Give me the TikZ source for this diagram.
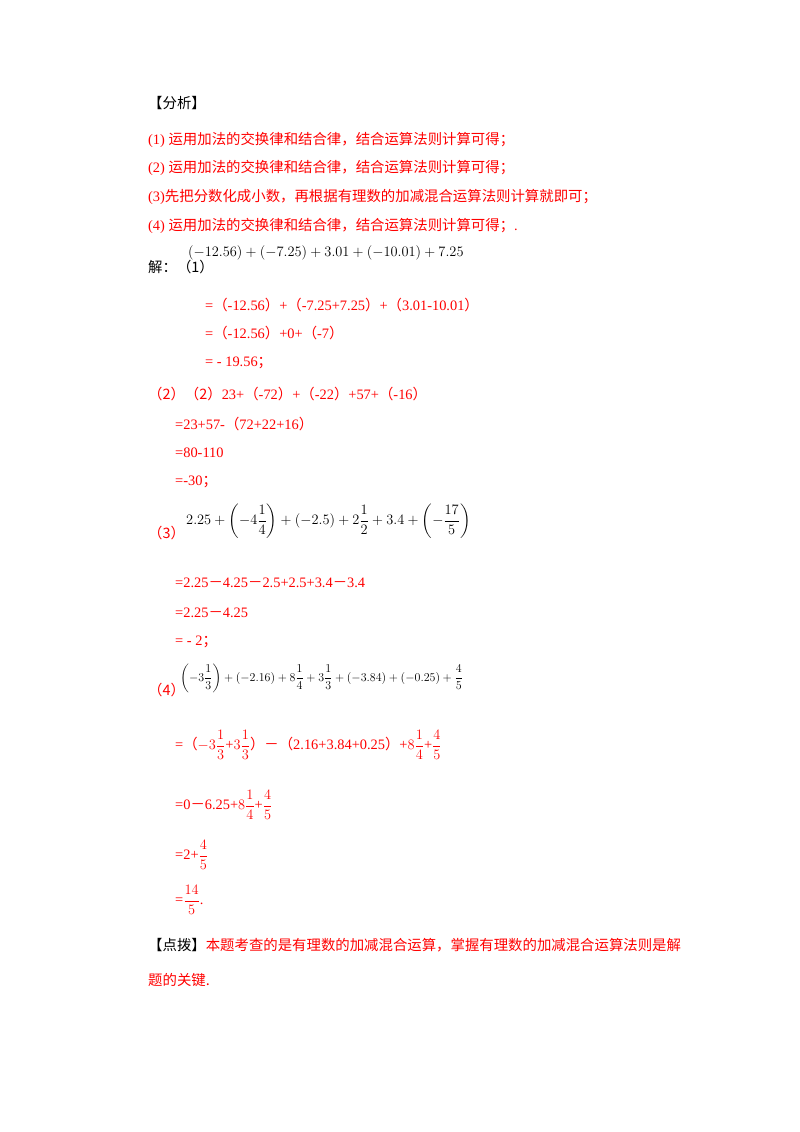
\documentclass[tikz,border=0pt]{standalone}
\usepackage{amsmath}
\usepackage{fontspec}
\setmainfont{Liberation Serif}
\newfontfamily\cjk{Noto Sans CJK SC}
\definecolor{rd}{RGB}{255,0,0}
\begin{document}
\begin{tikzpicture}[x=1pt,y=-1pt,
  t/.style={anchor=west,inner sep=0pt,font=\fontsize{14.4}{16}\selectfont,text=rd},
  k/.style={t,text=black},
  m/.style={k,font=\fontsize{#1}{16}\selectfont}]
\useasboundingbox[fill=white] (0,0) rectangle (800,1132);
\node[k] (a0) at (148,103) {\cjk 【分析】};
\node[t] (a1) at (148,140) {(1) {\cjk 运用加法的交换律和结合律，结合运算法则计算可得；}};
\node[t] (a2) at (148,168) {(2) {\cjk 运用加法的交换律和结合律，结合运算法则计算可得；}};
\node[t] (a3) at (148,197) {(3){\cjk 先把分数化成小数，再根据有理数的加减混合运算法则计算就即可；}};
\node[t] (a4) at (148,226) {(4) {\cjk 运用加法的交换律和结合律，结合运算法则计算可得；}.};
\node[k] (b0) at (148,267) {\cjk 解：（1）};
\node[m=15] (b1) at (188,253) {$(-12.56)+(-7.25)+3.01+(-10.01)+7.25$};
\node[t] (b2) at (205,305) {={\cjk （}-12.56{\cjk ）}+{\cjk （}-7.25+7.25{\cjk ）}+{\cjk （}3.01-10.01{\cjk ）}};
\node[t] (b3) at (205,333) {={\cjk （}-12.56{\cjk ）}+0+{\cjk （}-7{\cjk ）}};
\node[t] (b4) at (205,363) {= - 19.56{\cjk ；}};
\node[t] (c0) at (148,394) {{\cjk （2）（2）}23+{\cjk （}-72{\cjk ）}+{\cjk （}-22{\cjk ）}+57+{\cjk （}-16{\cjk ）}};
\node[t] (c1) at (175,424) {=23+57-{\cjk （}72+22+16{\cjk ）}};
\node[t] (c2) at (175,453) {=80-110};
\node[t] (c3) at (175,482) {=-30{\cjk ；}};
\node[t] (d0) at (148,533) {\cjk （3）};
\node[m=13.5] (d1) at (186,521) {$2.25+\left(-4\dfrac{1}{4}\right)+(-2.5)+2\dfrac{1}{2}+3.4+\left(-\dfrac{17}{5}\right)$};
\node[t] (d2) at (175,583) {=2.25{\cjk －}4.25{\cjk －}2.5+2.5+3.4{\cjk －}3.4};
\node[t] (d3) at (175,613) {=2.25{\cjk －}4.25};
\node[t] (d4) at (175,642) {= - 2{\cjk ；}};
\node[t] (e0) at (148,690) {\cjk （4）};
\node[m=12.8] (e1) at (180,678) {$\left(-3\dfrac{1}{3}\right)+(-2.16)+8\dfrac{1}{4}+3\dfrac{1}{3}+(-3.84)+(-0.25)+\dfrac{4}{5}$};
\node[t] (e2) at (175,745) {={\cjk （}$-3\dfrac{1}{3}$+$3\dfrac{1}{3}${\cjk ）}{\cjk －}{\cjk （}2.16+3.84+0.25{\cjk ）}+$8\dfrac{1}{4}$+$\dfrac{4}{5}$};
\node[t] (e3) at (175,805) {=0{\cjk －}6.25+$8\dfrac{1}{4}$+$\dfrac{4}{5}$};
\node[t] (e4) at (175,855) {=2+$\dfrac{4}{5}$};
\node[t] (e5) at (175,900) {=$\dfrac{14}{5}$.};
\node[k] (f0) at (148,945) {{\cjk 【点拨】}{\color{rd}\cjk 本题考查的是有理数的加减混合运算，掌握有理数的加减混合运算法则是解}};
\node[t] (f1) at (148,980) {\cjk 题的关键.};
\end{tikzpicture}
\end{document}
